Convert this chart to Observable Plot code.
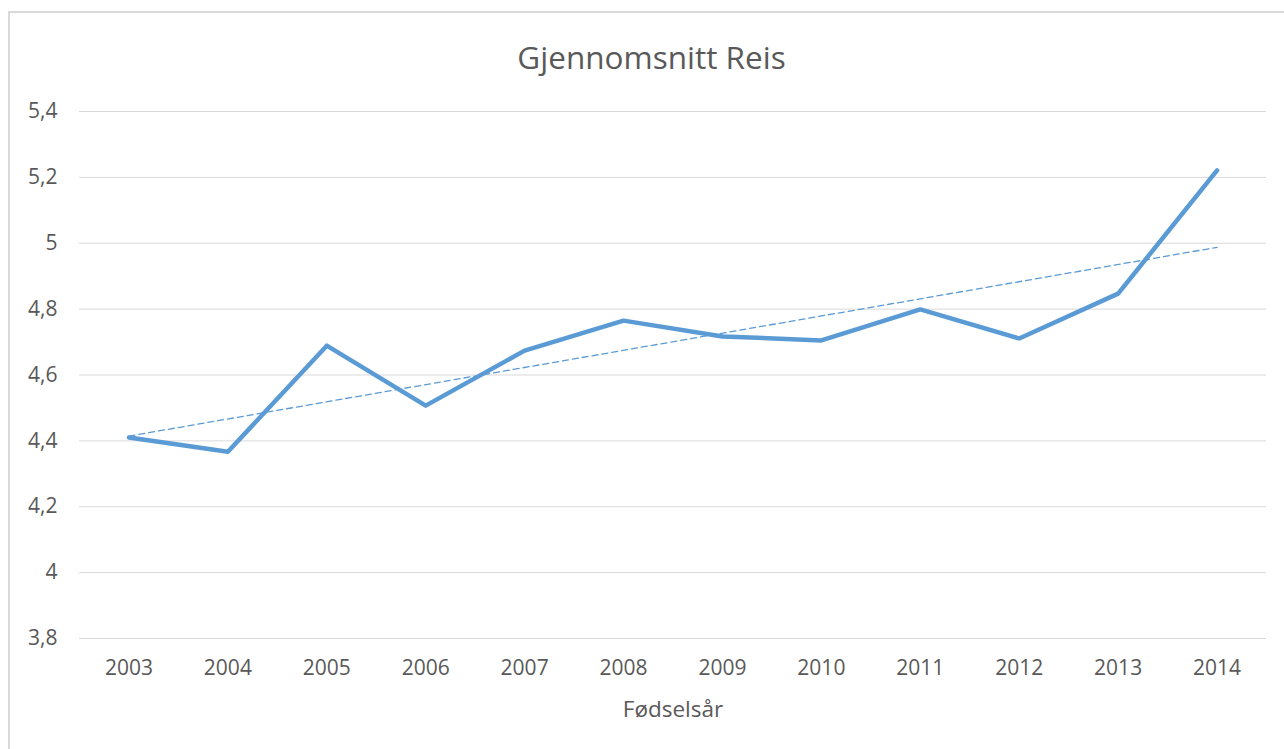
<!DOCTYPE html>
<html>
<head>
<meta charset="utf-8">
<script src="https://cdn.jsdelivr.net/npm/d3@7"></script>
<script src="https://cdn.jsdelivr.net/npm/@observablehq/plot@0.6"></script>
<style>
  html, body { margin: 0; padding: 0; overflow: hidden; background: #fff; width: 1284px; height: 749px; }
  #frame { position: absolute; left: 8px; top: 11px; width: 1300px; height: 800px; border: 2px solid #d9d9d9; box-sizing: border-box; }
  #title { position: absolute; left: 18px; top: 38px; width: 1267px; text-align: center; font-family: "Open Sans", sans-serif; font-size: 31.5px; line-height: 38px; color: #595959; }
  #chart { position: absolute; left: 0; top: 90px; }
  #chart svg g[aria-label="x-axis label"] text { font-size: 22.5px; }
</style>
</head>
<body>
<div id="frame"></div>
<div id="title">Gjennomsnitt Reis</div>
<div id="chart"></div>
<script>
const years = [2003, 2004, 2005, 2006, 2007, 2008, 2009, 2010, 2011, 2012, 2013, 2014];
const values = [4.41, 4.367, 4.689, 4.507, 4.674, 4.765, 4.717, 4.705, 4.799, 4.711, 4.847, 5.221];
const yTicks = [3.8, 4, 4.2, 4.4, 4.6, 4.8, 5, 5.2, 5.4];
const xLabel = "Fødselsår";

const data = years.map((year, i) => ({year, value: values[i]}));
const blue = "#5b9bd5";

const chart = Plot.plot({
  width: 1284,
  height: 659,
  marginLeft: 79,
  marginRight: 18,
  marginTop: 21,
  marginBottom: 111,
  style: {fontFamily: "'Open Sans', sans-serif", fontSize: "21px", color: "#595959", background: "transparent"},
  x: {type: "linear", domain: [2002.5, 2014.5], ticks: years, tickFormat: d => String(d), tickSize: 0, tickPadding: 22, label: xLabel, labelAnchor: "center", labelOffset: 78, labelArrow: "none"},
  y: {domain: [3.8, 5.4], ticks: yTicks, tickFormat: d => String(d).replace(".", ","), tickSize: 0, tickPadding: 22, label: null},
  marks: [
    Plot.ruleY(yTicks, {stroke: "#d9d9d9", strokeWidth: 1}),
    Plot.linearRegressionY(data, {x: "year", y: "value", stroke: blue, strokeWidth: 1.3, strokeDasharray: "6,4", ci: 0}),
    Plot.line(data, {x: "year", y: "value", stroke: blue, strokeWidth: 4.5, strokeLinejoin: "round", strokeLinecap: "round"})
  ]
});
document.getElementById("chart").appendChild(chart);
</script>
</body>
</html>
